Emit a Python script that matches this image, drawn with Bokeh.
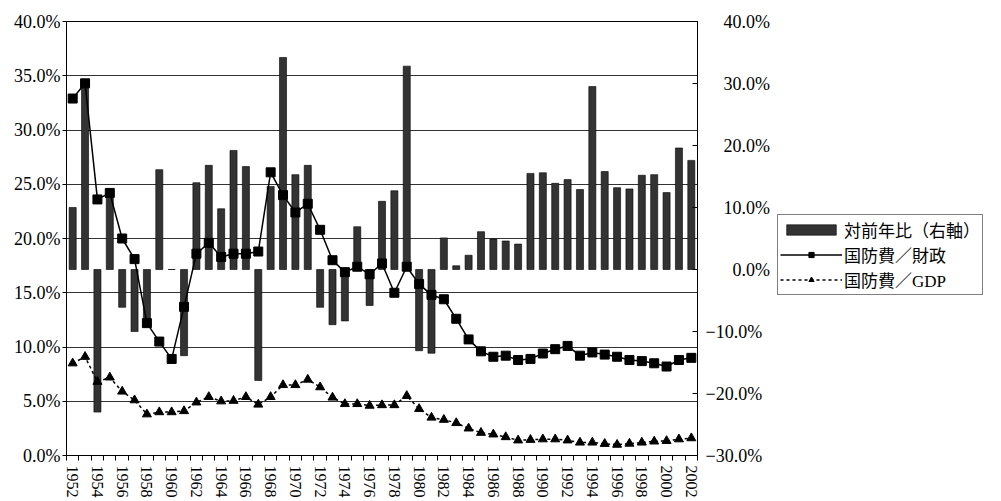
import math
from bokeh.plotting import figure
from bokeh.layouts import row
from bokeh.models import (Range1d, LinearAxis, FixedTicker, Legend, LegendItem,
                          ColumnDataSource, PrintfTickFormatter)
from bokeh.embed import file_html
from bokeh.resources import INLINE

# ---- data ----
years = list(range(1952, 2003))
defense_budget = [32.9, 34.3, 23.6, 24.2, 20.0, 18.1, 12.2, 10.5, 8.9, 13.7,
                  18.6, 19.6, 18.3, 18.6, 18.6, 18.8, 26.1, 24.0, 22.4, 23.2,
                  20.8, 18.0, 16.9, 17.4, 16.7, 17.7, 15.0, 17.4, 15.8, 14.8,
                  14.4, 12.6, 10.7, 9.6, 9.1, 9.2, 8.8, 8.9, 9.4, 9.8,
                  10.1, 9.2, 9.5, 9.3, 9.1, 8.8, 8.7, 8.5, 8.2, 8.8, 9.0]
defense_gdp = [8.5, 9.1, 6.8, 7.2, 5.9, 5.1, 3.8, 4.0, 4.0, 4.1,
               4.9, 5.4, 5.0, 5.05, 5.4, 4.7, 5.4, 6.5, 6.5, 7.0,
               6.3, 5.35, 4.75, 4.75, 4.6, 4.65, 4.65, 5.5, 4.3, 3.5,
               3.3, 3.0, 2.5, 2.1, 1.95, 1.7, 1.4, 1.45, 1.5, 1.5,
               1.4, 1.2, 1.2, 1.08, 1.0, 1.1, 1.2, 1.3, 1.35, 1.5, 1.6]
yoy_change = [10.0, 30.3, -23.0, 12.6, -6.1, -10.0, -8.8, 16.1, 0.0, -13.9,
              14.0, 16.8, 9.8, 19.2, 16.6, -17.9, 13.4, 34.2, 15.3, 16.8,
              -6.1, -8.9, -8.3, 6.9, -5.8, 11.0, 12.7, 32.8, -13.1, -13.5,
              5.1, 0.6, 2.3, 6.1, 4.9, 4.6, 4.1, 15.5, 15.6, 13.9,
              14.5, 12.9, 29.5, 15.8, 13.2, 13.0, 15.2, 15.3, 12.4, 19.6, 17.6]
left_ticks = [0, 5, 10, 15, 20, 25, 30, 35, 40]
right_ticks = [-30, -20, -10, 0, 10, 20, 30, 40]
label_years = list(range(1952, 2003, 2))
series_names = ["対前年比（右軸）", "国防費／財政", "国防費／GDP"]

FS = "\u2007"
right_labels = {}
for t in right_ticks:
    if t < 0:
        right_labels[t] = "\u2212%.1f%%" % abs(t)
    elif t == 0:
        right_labels[t] = FS * 3 + "0.0%"
    else:
        right_labels[t] = FS * 2 + "%.1f%%" % t

SERIF = "Liberation Serif"
JP = "Liberation Serif, Noto Sans CJK JP"

src = ColumnDataSource(dict(year=years, fin=defense_budget, gdp=defense_gdp, yoy=yoy_change))


def draw_series(f, range_name=None):
    kw = {} if range_name is None else {"y_range_name": range_name}
    b = f.vbar(x="year", top="yoy", bottom=0, width=0.57, source=src,
               fill_color="#333333", line_color="black", line_width=0.6, **kw)
    a1 = f.line("year", "fin", source=src, line_color="black", line_width=1.5)
    m1 = f.scatter("year", "fin", source=src, marker="square", size=9,
                   fill_color="black", line_color="black")
    a2 = f.line("year", "gdp", source=src, line_color="black", line_width=1.5,
                line_dash="3 3")
    m2 = f.scatter("year", "gdp", source=src, marker="triangle", size=9,
                   fill_color="black", line_color="black")
    return b, a1, m1, a2, m2


fig = figure(frame_width=631, frame_height=434, x_range=Range1d(1951.5, 2002.5),
             y_range=Range1d(0, 40),
             output_backend="svg", toolbar_location=None,
             min_border_left=66, min_border_top=21, min_border_bottom=0, min_border_right=0)
fig.extra_y_ranges = {"yoy": Range1d(-30, 40)}
draw_series(fig, "yoy")

# axes
fig.yaxis.ticker = FixedTicker(ticks=left_ticks)
fig.yaxis.formatter = PrintfTickFormatter(format="%.1f%%")
fig.yaxis.major_label_text_font = SERIF
fig.yaxis.major_label_text_font_size = "18px"
fig.yaxis.major_label_text_color = "black"
fig.yaxis.major_tick_out = 4
fig.yaxis.major_tick_in = 0
fig.yaxis.minor_tick_line_color = None
fig.yaxis.major_label_standoff = 2
fig.yaxis.axis_line_color = "black"
fig.yaxis.major_tick_line_color = "black"

fig.xaxis.ticker = FixedTicker(ticks=label_years,
                               minor_ticks=[y - 0.5 for y in years] + [years[-1] + 0.5])
fig.xaxis.major_tick_out = 0
fig.xaxis.major_tick_in = 0
fig.xaxis.minor_tick_out = 5
fig.xaxis.minor_tick_in = 0
fig.xaxis.minor_tick_line_color = "black"
fig.xaxis.major_label_orientation = -math.pi / 2
fig.xaxis.major_label_text_font = SERIF
fig.xaxis.major_label_text_font_size = "16px"
fig.xaxis.major_label_text_color = "black"
fig.xaxis.major_label_standoff = 5
fig.xaxis.axis_line_color = "black"

raxis = LinearAxis(y_range_name="yoy", ticker=FixedTicker(ticks=right_ticks),
                   major_label_overrides=right_labels)
raxis.major_label_text_font = SERIF
raxis.major_label_text_font_size = "18px"
raxis.major_label_text_color = "black"
raxis.major_tick_in = 5
raxis.major_tick_out = 0
raxis.minor_tick_line_color = None
raxis.major_label_standoff = 8
raxis.axis_line_color = "black"
fig.add_layout(raxis, "right")

fig.xgrid.grid_line_color = None
fig.ygrid.ticker = FixedTicker(ticks=left_ticks)
fig.ygrid.grid_line_color = "#333333"
fig.ygrid.grid_line_width = 1
fig.outline_line_color = "black"
fig.outline_line_alpha = 1

# ---- legend panel (separate figure; its series lie outside its view) ----
H = 499
leg_fig = figure(width=225, height=H, x_range=Range1d(0, 1), y_range=Range1d(0, 1),
                 output_backend="svg", toolbar_location=None,
                 x_axis_location=None, y_axis_location=None,
                 min_border_left=0, min_border_right=0, min_border_top=0, min_border_bottom=0)
leg_fig.outline_line_color = None
leg_fig.xgrid.grid_line_color = None
leg_fig.ygrid.grid_line_color = None
b, a1, m1, a2, m2 = draw_series(leg_fig)

legend = Legend(items=[LegendItem(label=series_names[0], renderers=[b]),
                       LegendItem(label=series_names[1], renderers=[a1, m1]),
                       LegendItem(label=series_names[2], renderers=[a2, m2])],
                location=(5, 159))
legend.label_text_font = JP
legend.label_text_font_size = "17px"
legend.label_text_color = "black"
legend.glyph_width = 62
legend.glyph_height = 13
legend.label_height = 20
legend.spacing = 0
legend.padding = 2
legend.margin = 0
legend.label_standoff = 2
legend.border_line_color = "black"
legend.border_line_width = 1
legend.background_fill_color = "white"
leg_fig.add_layout(legend, "center")

p = row(fig, leg_fig)

open("out.html", "w").write(file_html(p, INLINE))
